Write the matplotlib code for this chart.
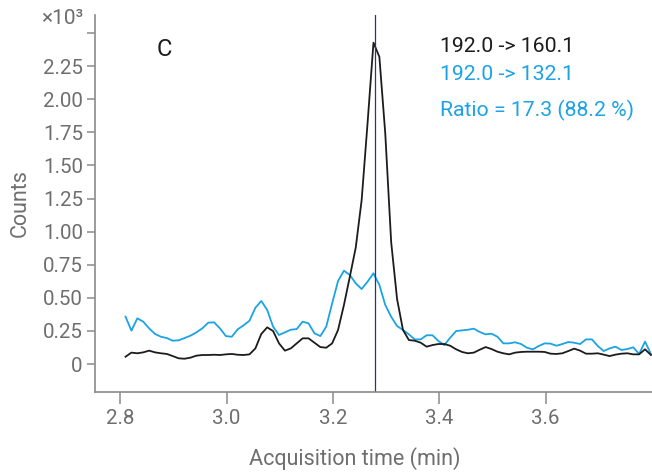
import matplotlib.pyplot as plt
import numpy as np

plt.rcParams['font.family'] = ['Roboto', 'DejaVu Sans']

# acquisition grid (min)
T_START, T_END = 2.81, 3.798

# counts (x10^3)
quant_160 = [0.055, 0.086, 0.081, 0.088, 0.101, 0.088, 0.081, 0.076, 0.060, 0.043,
             0.040, 0.048, 0.063, 0.068, 0.068, 0.070, 0.068, 0.073, 0.076, 0.070,
             0.068, 0.073, 0.118, 0.227, 0.277, 0.249, 0.156, 0.101, 0.118, 0.156,
             0.194, 0.194, 0.161, 0.128, 0.123, 0.156, 0.257, 0.446, 0.660, 0.880,
             1.239, 1.820, 2.427, 2.320, 1.740, 0.920, 0.490, 0.257, 0.181, 0.176,
             0.161, 0.131, 0.143, 0.151, 0.151, 0.138, 0.111, 0.091, 0.081, 0.086,
             0.108, 0.128, 0.113, 0.093, 0.081, 0.073, 0.086, 0.091, 0.093, 0.093,
             0.093, 0.091, 0.078, 0.076, 0.081, 0.098, 0.116, 0.101, 0.078, 0.078,
             0.081, 0.071, 0.060, 0.071, 0.078, 0.081, 0.073, 0.073, 0.111, 0.068]

qual_132 = [0.358, 0.252, 0.345, 0.320, 0.269, 0.227, 0.206, 0.196, 0.176, 0.179,
            0.196, 0.214, 0.239, 0.269, 0.312, 0.315, 0.269, 0.211, 0.206, 0.262,
            0.292, 0.327, 0.425, 0.476, 0.408, 0.282, 0.219, 0.239, 0.259, 0.264,
            0.320, 0.307, 0.232, 0.211, 0.282, 0.458, 0.627, 0.705, 0.672, 0.609,
            0.566, 0.622, 0.685, 0.597, 0.446, 0.357, 0.287, 0.257, 0.224, 0.186,
            0.186, 0.217, 0.217, 0.174, 0.143, 0.199, 0.249, 0.254, 0.259, 0.267,
            0.242, 0.224, 0.229, 0.206, 0.156, 0.156, 0.164, 0.151, 0.123, 0.111,
            0.136, 0.156, 0.154, 0.138, 0.151, 0.166, 0.161, 0.151, 0.186, 0.186,
            0.136, 0.098, 0.118, 0.131, 0.106, 0.113, 0.126, 0.076, 0.169, 0.076]

rt_marker = 3.28
x_ticks = [2.8, 3.0, 3.2, 3.4, 3.6]
y_ticks = [0, 0.25, 0.5, 0.75, 1.0, 1.25, 1.5, 1.75, 2.0, 2.25, 2.5]
y_ticklabels = ['0', '0.25', '0.50', '0.75', '1.00', '1.25', '1.50', '1.75', '2.00', '2.25', '']

times = np.linspace(T_START, T_END, len(quant_160))

BLUE = '#1ba3e3'
BLACK = '#1c1c1c'
GREY = '#8a8a8a'
TXT = '#6e6e6e'

fig = plt.figure(figsize=(6.52, 4.75), dpi=100)
ax = fig.add_axes([0.1452, 0.1754, 0.8548, 0.7930])

ax.plot(times, qual_132, color=BLUE, linewidth=1.3)
ax.plot(times, quant_160, color=BLACK, linewidth=1.3)
ax.axvline(rt_marker, color='#2e3080', linewidth=0.9)

ax.set_xlim(2.752, 3.80)
ax.set_ylim(-0.209, 2.636)
ax.set_xticks(x_ticks)
ax.set_xticklabels([f'{v:.1f}' for v in x_ticks])
ax.set_yticks(y_ticks)
ax.set_yticklabels(y_ticklabels)

for s in ['top', 'right']:
    ax.spines[s].set_visible(False)
for s in ['left', 'bottom']:
    ax.spines[s].set_color(GREY)
    ax.spines[s].set_linewidth(1.2)

ax.tick_params(axis='x', length=8.5, width=1.1, color=GREY, labelcolor=TXT, labelsize=14.8, pad=4)
ax.tick_params(axis='y', length=5.5, width=1.1, color=GREY, labelcolor=TXT, labelsize=14.8, pad=3)

ax.set_xlabel('Acquisition time (min)', fontsize=15.5, color=TXT)
ax.xaxis.set_label_coords(0.467, -0.148)
ax.set_ylabel('Counts', fontsize=15.5, color=TXT, labelpad=9)

fig.text(83 / 652, 1 - 18 / 475, '×10³', ha='right', va='center', fontsize=15, color=TXT)

fig.text(164 / 652, 1 - 49 / 475, 'C', ha='center', va='center', fontsize=17, color=BLACK)
fig.text(440 / 652, 1 - 47 / 475, '192.0 -> 160.1', ha='left', va='center', fontsize=15.3, color=BLACK)
fig.text(440 / 652, 1 - 74 / 475, '192.0 -> 132.1', ha='left', va='center', fontsize=15.3, color=BLUE)
fig.text(440 / 652, 1 - 110 / 475, 'Ratio = 17.3 (88.2 %)', ha='left', va='center', fontsize=15.3, color=BLUE)

fig.savefig('out.png', dpi=100)
plt.close(fig)
